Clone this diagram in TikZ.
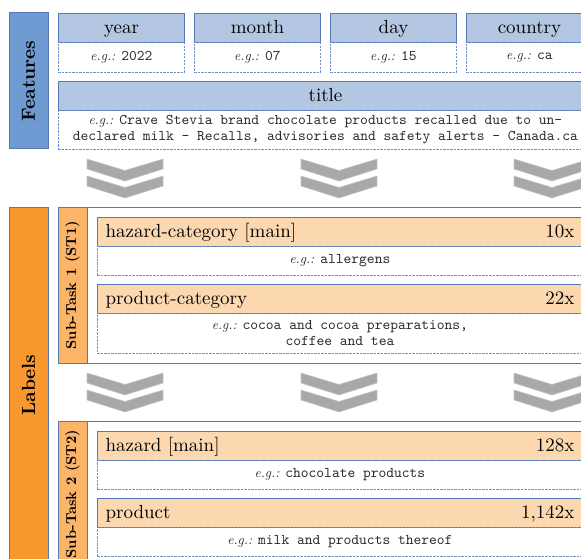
\documentclass[tikz,border=0pt]{standalone}
\usepackage{fontspec}
\setmainfont{lmroman10}[Extension=.otf, UprightFont=*-regular, BoldFont=*-bold, ItalicFont=*-italic, BoldItalicFont=*-bolditalic]
\setmonofont{lmmono10}[Extension=.otf, UprightFont=*-regular]
\definecolor{bord}{HTML}{5679B5}
\definecolor{hblue}{HTML}{B4C7E2}
\definecolor{featblue}{HTML}{6F9BD2}
\definecolor{labor}{HTML}{F8982F}
\definecolor{stor}{HTML}{FBB468}
\definecolor{hor}{HTML}{FCD8B0}
\definecolor{dashc}{HTML}{6F8FC6}
\definecolor{chevf}{HTML}{A8A8A8}
\definecolor{chevd}{HTML}{C4C4C4}
\definecolor{egtxt}{HTML}{2A2A2A}
\begin{document}
\begin{tikzpicture}[x=1pt,y=-1pt,
  sidebar/.style={draw=bord, line width=1pt, rotate=90, inner sep=0pt,
    font=\fontsize{19}{22}\selectfont\bfseries},
  hdrblue/.style={draw=bord, fill=hblue, line width=1pt, anchor=north west,
    inner sep=0pt, minimum height=29pt, text height=14.5pt, text depth=3.5pt,
    font=\fontsize{19}{22}\selectfont},
  hdror/.style={draw=bord, fill=hor, line width=1pt, anchor=north west,
    inner xsep=8pt, inner ysep=0pt, minimum height=29pt, text width=469pt,
    text height=14.5pt, text depth=3.5pt,
    font=\fontsize{19}{22}\selectfont},
  egbox/.style={draw=dashc, dash pattern=on 2.2pt off 1.3pt, line width=0.8pt,
    anchor=north west, inner sep=0pt, align=center, text=egtxt,
    font=\fontsize{13.5}{16}\selectfont},
  stbox/.style={draw=bord, fill=white, line width=1pt, anchor=north west,
    inner sep=0pt, minimum width=534pt},
  ststrip/.style={draw=bord, fill=stor, line width=1pt, rotate=90, inner sep=0pt,
    minimum height=29pt, font=\fontsize{14.5}{16}\selectfont\bfseries},
  chevs/.style={fill=chevf, draw=chevd, line width=0.6pt},
  dchev/.pic={
    \path[chevs] (-38,0) -- (0,11.5) -- (38,0) -- (38,10) -- (0,22) -- (-38,10) -- cycle;
    \path[chevs] (-38,17) -- (0,28.5) -- (38,17) -- (38,27) -- (0,39) -- (-38,27) -- cycle;
  }]
\newcommand\egmono[1]{{\fontsize{14.8}{16}\selectfont\ttfamily #1}}
\useasboundingbox (0,0) rectangle (581,559);
\clip (0,0) rectangle (581,559);

% Features bar
\node[sidebar, fill=featblue, minimum width=136pt, minimum height=39pt] (feat) at (28.5,81) {Features};

% feature boxes
\node[hdrblue, minimum width=126pt] (yearH) at (58,13) {year};
\node[egbox, minimum width=126pt, minimum height=30pt] (yearE) at (58,42) {\textit{e.g.:} \egmono{2022}};
\node[hdrblue, minimum width=126pt] (monthH) at (194,13) {month};
\node[egbox, minimum width=126pt, minimum height=30pt] (monthE) at (194,42) {\textit{e.g.:} \egmono{07}};
\node[hdrblue, minimum width=126pt] (dayH) at (330,13) {day};
\node[egbox, minimum width=126pt, minimum height=30pt] (dayE) at (330,42) {\textit{e.g.:} \egmono{15}};
\node[hdrblue, minimum width=126pt] (countryH) at (466,13) {country};
\node[egbox, minimum width=126pt, minimum height=30pt] (countryE) at (466,42) {\textit{e.g.:} \egmono{ca}};
\node[hdrblue, minimum width=534pt] (titleH) at (58,81) {title};
\node[egbox, minimum width=534pt, minimum height=39pt] (titleE) at (58,110)
  {\textit{e.g.:} \egmono{Crave Stevia brand chocolate products recalled due to un-}\\
   \egmono{declared milk - Recalls, advisories and safety alerts - Canada.ca}};

% chevrons row 1
\pic at (125,159) {dchev};
\pic at (339,159) {dchev};
\pic at (552,159) {dchev};

% Labels bar
\node[sidebar, fill=labor, minimum width=356pt, minimum height=39pt] (labels) at (28.5,385) {Labels};

% Sub-Task 1
\node[stbox, minimum height=156pt] (st1) at (58,207) {};
\node[ststrip, minimum width=156pt] (st1s) at (72.5,285) {Sub-Task 1 (ST1)};
\node[hdror] (hcH) at (97,217) {hazard-category [main]\hfill 10x};
\node[egbox, minimum width=485pt, minimum height=29pt] (hcE) at (97,246) {\textit{e.g.:} \egmono{allergens}};
\node[hdror] (pcH) at (97,284) {product-category\hfill 22x};
\node[egbox, minimum width=485pt, minimum height=40pt] (pcE) at (97,313)
  {\textit{e.g.:} \egmono{cocoa and cocoa preparations,}\\ \egmono{coffee and tea}};

% chevrons row 2
\pic at (125,373) {dchev};
\pic at (339,373) {dchev};
\pic at (552,373) {dchev};

% Sub-Task 2
\node[stbox, minimum height=146pt] (st2) at (58,421) {};
\node[ststrip, minimum width=146pt] (st2s) at (72.5,494) {Sub-Task 2 (ST2)};
\node[hdror] (hzH) at (97,431) {hazard [main]\hfill 128x};
\node[egbox, minimum width=485pt, minimum height=29pt] (hzE) at (97,460) {\textit{e.g.:} \egmono{chocolate products}};
\node[hdror] (prH) at (97,498) {product\hfill 1,142x};
\node[egbox, minimum width=485pt, minimum height=29pt] (prE) at (97,527) {\textit{e.g.:} \egmono{milk and products thereof}};
\end{tikzpicture}
\end{document}
